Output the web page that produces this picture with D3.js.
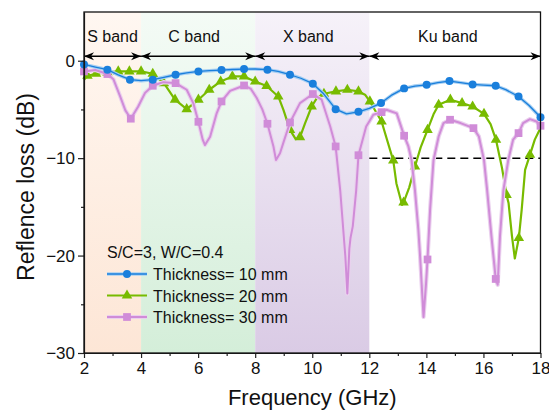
<!DOCTYPE html>
<html>
<head>
<meta charset="utf-8">
<script src="https://cdn.jsdelivr.net/npm/d3@7"></script>
<style>
  html, body { margin: 0; padding: 0; background: #fff; }
  svg { display: block; font-family: "Liberation Sans", Arial, sans-serif; }
</style>
</head>
<body>
<svg id="chart" width="549" height="412"></svg>
<script>
// Frequency bands (GHz)
const bandNames = ["S band", "C band", "X band", "Ku band"];
const bandEdges = [2, 4, 8, 12, 18];

// Axis ticks
const xTicks = [2, 4, 6, 8, 10, 12, 14, 16, 18];
const xMinorTicks = [3, 5, 7, 9, 11, 13, 15, 17];
const yTicks = [-30, -20, -10, 0];
const yMinorTicks = [-25, -15, -5];

// Reference level of -10 dB across the Ku band
const refLevel = -10;
const refRange = [12, 18];

// Thickness = 10 mm
const freq10 = [2.0, 2.4, 2.82, 3.2, 3.61, 4.0, 4.41, 4.8, 5.21, 5.6, 6.01, 6.4, 6.82, 7.2, 7.61, 8.0, 8.43, 8.8, 9.22, 9.6, 10.02, 10.4, 10.82, 11.2, 11.62, 12.0, 12.41, 12.8, 13.22, 13.6, 14.01, 14.4, 14.81, 15.2, 15.62, 16.0, 16.43, 16.8, 17.23, 17.6, 18.0];
const loss10 = [-0.38, -0.65, -0.92, -1.45, -1.95, -2.05, -1.95, -1.7, -1.44, -1.25, -1.1, -1.02, -0.96, -0.9, -0.86, -0.85, -0.92, -1.1, -1.44, -1.8, -2.36, -3.4, -4.97, -5.45, -5.24, -4.9, -4.35, -3.5, -2.84, -2.6, -2.47, -2.25, -2.09, -2.25, -2.43, -2.5, -2.57, -3.0, -3.67, -4.6, -5.8];
const marks10 = [2.0, 2.82, 3.61, 4.41, 5.21, 6.01, 6.82, 7.61, 8.43, 9.22, 10.02, 10.82, 11.62, 12.41, 13.22, 14.01, 14.81, 15.62, 16.43, 17.23, 18.0];

// Thickness = 20 mm
const freq20 = [2.0, 2.12, 2.42, 2.82, 3.2, 3.59, 4.0, 4.41, 4.8, 5.19, 5.6, 6.01, 6.39, 6.79, 7.2, 7.61, 8.0, 8.4, 8.81, 8.99, 9.22, 9.42, 9.57, 9.75, 9.98, 10.16, 10.41, 10.83, 11.23, 11.62, 11.85, 12.02, 12.43, 12.84, 12.95, 13.15, 13.2, 13.4, 13.6, 13.8, 14.04, 14.25, 14.43, 14.84, 15.25, 15.62, 16.02, 16.25, 16.44, 16.65, 16.81, 16.88, 17.0, 17.1, 17.24, 17.34, 17.46, 17.63, 17.8, 18.0];
const loss20 = [-1.95, -1.54, -1.34, -1.2, -1.1, -1.1, -1.1, -1.34, -2.3, -4.0, -4.97, -4.0, -2.98, -2.13, -1.61, -1.61, -2.13, -2.6, -3.67, -5.04, -7.1, -8.05, -7.84, -6.4, -4.7, -3.84, -3.39, -3.15, -2.98, -3.15, -3.49, -4.18, -6.24, -10.25, -12.6, -14.8, -14.56, -13.0, -10.86, -8.9, -7.1, -5.5, -4.52, -4.0, -4.35, -4.7, -5.45, -6.5, -8.12, -11.0, -13.77, -14.6, -18.0, -20.3, -18.2, -15.3, -11.2, -9.66, -8.1, -6.9];
const marks20 = [2.12, 2.42, 2.82, 3.2, 3.59, 4.0, 4.41, 4.8, 5.19, 5.6, 6.01, 6.39, 6.79, 7.2, 7.61, 8.0, 8.4, 8.81, 9.22, 9.57, 9.98, 10.41, 10.83, 11.23, 11.62, 12.02, 12.43, 12.84, 13.2, 13.6, 14.04, 14.43, 14.84, 15.25, 15.62, 16.02, 16.44, 16.81, 17.24, 17.63];

// Thickness = 30 mm
const freq30 = [2.0, 2.4, 2.82, 3.03, 3.26, 3.45, 3.64, 3.9, 4.14, 4.41, 4.78, 5.21, 5.6, 5.83, 6.01, 6.16, 6.24, 6.42, 6.65, 6.82, 7.12, 7.61, 7.85, 8.05, 8.25, 8.43, 8.64, 8.73, 8.87, 9.0, 9.22, 9.57, 10.02, 10.33, 10.63, 10.82, 10.98, 11.16, 11.23, 11.3, 11.34, 11.42, 11.54, 11.62, 11.89, 12.14, 12.43, 12.6, 12.96, 13.22, 13.37, 13.48, 13.6, 13.72, 13.78, 13.9, 13.99, 14.04, 14.13, 14.25, 14.43, 14.6, 14.83, 15.2, 15.65, 15.84, 16.02, 16.13, 16.28, 16.43, 16.5, 16.58, 16.7, 16.87, 17.04, 17.23, 17.39, 17.63, 17.86, 18.0];
const loss30 = [-1.1, -0.95, -1.37, -1.9, -3.6, -5.1, -5.95, -4.7, -3.3, -2.57, -2.2, -2.3, -2.98, -4.35, -6.27, -8.1, -8.65, -7.8, -5.4, -4.18, -3.1, -2.54, -2.9, -3.8, -5.0, -6.47, -8.8, -10.2, -9.5, -8.3, -6.34, -4.35, -3.42, -4.0, -6.75, -8.8, -13.3, -20.1, -23.9, -19.3, -18.2, -17.0, -13.3, -9.7, -6.75, -5.55, -5.28, -5.04, -5.4, -7.7, -8.8, -10.2, -13.3, -17.4, -20.1, -26.3, -22.8, -20.4, -15.3, -10.2, -7.78, -6.4, -6.06, -6.4, -6.92, -7.78, -10.2, -13.3, -18.0, -22.4, -23.0, -18.0, -13.3, -10.2, -8.1, -7.43, -6.4, -6.0, -6.24, -6.68];
const marks30 = [2.0, 2.82, 3.64, 4.41, 5.21, 6.01, 6.82, 7.61, 8.43, 9.22, 10.02, 10.82, 11.62, 12.43, 13.22, 14.04, 14.83, 15.65, 16.43, 17.23, 18.0];

// Legend
const legendTitle = "S/C=3, W/C=0.4";
const legendLabels = ["Thickness= 10 mm", "Thickness= 20 mm", "Thickness= 30 mm"];

const W = 549, H = 412;
const plot = { left: 84, right: 540.5, top: 12, bottom: 353 };

const svg = d3.select("#chart");
const x = d3.scaleLinear().domain([2, 18]).range([plot.left, plot.right]);
const y = d3.scaleLinear().domain([-30, 5]).range([plot.bottom, plot.top]);

// Shaded band backgrounds (soft vertical gradients)
const bandFills = [
  { top: "#fff7f1", bottom: "#fde6d6" },
  { top: "#f4fbf6", bottom: "#d4eed9" },
  { top: "#f6f2f9", bottom: "#dacbe5" },
  null
];
const defs = svg.append("defs");
bandFills.forEach((f, i) => {
  if (!f) return;
  const g = defs.append("linearGradient").attr("id", "band" + i)
    .attr("x1", 0).attr("y1", 0).attr("x2", 0).attr("y2", 1);
  g.append("stop").attr("offset", "0%").attr("stop-color", f.top);
  g.append("stop").attr("offset", "100%").attr("stop-color", f.bottom);
});
svg.append("g").selectAll("rect")
  .data(bandNames.map((n, i) => ({ i, a: bandEdges[i], b: bandEdges[i + 1] })).filter(d => bandFills[d.i]))
  .join("rect")
  .attr("x", d => x(d.a)).attr("width", d => x(d.b) - x(d.a))
  .attr("y", plot.top).attr("height", plot.bottom - plot.top)
  .attr("fill", d => `url(#band${d.i})`);

// Band span arrows and labels
const arrowY = y(0.46);
const arrowHead = "M0,0 L-10,-4 L-7,0 L-10,4 Z";
const bands = svg.append("g");
bandNames.forEach((name, i) => {
  const x0 = x(bandEdges[i]), x1 = x(bandEdges[i + 1]);
  bands.append("line").attr("x1", x0).attr("x2", x1).attr("y1", arrowY).attr("y2", arrowY)
    .attr("stroke", "#000").attr("stroke-width", 1.3);
  bands.append("path").attr("d", arrowHead).attr("fill", "#000")
    .attr("transform", `translate(${x0},${arrowY}) rotate(180)`);
  bands.append("path").attr("d", arrowHead).attr("fill", "#000")
    .attr("transform", `translate(${x1},${arrowY})`);
  bands.append("text").attr("x", (x0 + x1) / 2 - (i === 0 ? 0 : i === 3 ? 7 : 4)).attr("y", 42)
    .attr("text-anchor", "middle").attr("font-size", 16).attr("fill", "#111").text(name);
});

// -10 dB reference line
svg.append("line")
  .attr("x1", x(refRange[0])).attr("x2", x(refRange[1]))
  .attr("y1", y(refLevel)).attr("y2", y(refLevel))
  .attr("stroke", "#000").attr("stroke-width", 1.5).attr("stroke-dasharray", "8,5");

// Series
const series = [
  { f: freq10, v: loss10, m: marks10, color: "#1a7fdc", halo: "#a6cff2", width: 1.3, shape: "circle" },
  { f: freq20, v: loss20, m: marks20, color: "#78bb00", halo: null, width: 2.2, shape: "triangle" },
  { f: freq30, v: loss30, m: marks30, color: "#d08cd8", halo: "#ead0ee", width: 2.0, shape: "square" }
];
const line = d3.line().x(d => x(d[0])).y(d => y(d[1]));
const symbolFor = s => s === "circle" ? d3.symbolCircle : s === "triangle" ? d3.symbolTriangle : d3.symbolSquare;
const symbolSize = s => s === "circle" ? 50 : s === "triangle" ? 48 : 60;

const seriesLayer = svg.append("g");
[1, 2, 0].forEach(k => {
  const s = series[k];
  const pts = s.f.map((f, i) => [f, s.v[i]]);
  const g = seriesLayer.append("g");
  if (s.halo) {
    g.append("path").datum(pts).attr("d", line).attr("fill", "none")
      .attr("stroke", s.halo).attr("stroke-width", s.width + 2.2).attr("stroke-linejoin", "round");
  }
  g.append("path").datum(pts).attr("d", line).attr("fill", "none")
    .attr("stroke", s.color).attr("stroke-width", s.width).attr("stroke-linejoin", "round");
  const markPts = s.m.map(mf => pts.find(p => p[0] === mf)).filter(Boolean);
  g.selectAll("path.mk").data(markPts).join("path").attr("class", "mk")
    .attr("d", d3.symbol().type(symbolFor(s.shape)).size(symbolSize(s.shape)))
    .attr("transform", d => `translate(${x(d[0])},${y(d[1])})`)
    .attr("fill", s.color);
});

// Axes
const xAxis = svg.append("g").attr("transform", `translate(0,${plot.bottom})`)
  .call(d3.axisBottom(x).tickValues(xTicks).tickSize(5).tickSizeOuter(0).tickPadding(4).tickFormat(d3.format("d")));
svg.append("g").attr("transform", `translate(0,${plot.bottom})`)
  .call(d3.axisBottom(x).tickValues(xMinorTicks).tickSize(3).tickSizeOuter(0).tickFormat(""))
  .call(g => g.select(".domain").remove());
const yAxis = svg.append("g").attr("transform", `translate(${plot.left},0)`)
  .call(d3.axisLeft(y).tickValues(yTicks).tickSize(6).tickSizeOuter(0).tickPadding(3));
svg.append("g").attr("transform", `translate(${plot.left},0)`)
  .call(d3.axisLeft(y).tickValues(yMinorTicks).tickSize(3).tickSizeOuter(0).tickFormat(""))
  .call(g => g.select(".domain").remove());
svg.selectAll(".tick line").attr("stroke", "#222").attr("stroke-width", 1.2);
svg.selectAll(".domain").attr("stroke", "#222").attr("stroke-width", 1.2);
svg.selectAll(".tick text").attr("font-size", 17).attr("fill", "#111")
  .attr("font-family", "'Liberation Sans', Arial, sans-serif");
xAxis.selectAll(".tick text").attr("dy", "0.71em");

// Plot frame
svg.append("rect")
  .attr("x", plot.left).attr("y", plot.top)
  .attr("width", plot.right - plot.left).attr("height", plot.bottom - plot.top)
  .attr("fill", "none").attr("stroke", "#111").attr("stroke-width", 1.3);

// Axis titles
svg.append("text").attr("x", (plot.left + plot.right) / 2).attr("y", 405)
  .attr("text-anchor", "middle").attr("font-size", 22).attr("fill", "#111").text("Frequency (GHz)");
svg.append("text").attr("transform", "translate(33.5,187) rotate(-90)")
  .attr("text-anchor", "middle").attr("font-size", 23).attr("fill", "#111").text("Reflence loss (dB)");

// Legend
const legend = svg.append("g");
legend.append("text").attr("x", 107).attr("y", 258).attr("font-size", 16).attr("fill", "#111").text(legendTitle);
legendLabels.forEach((label, i) => {
  const s = series[i];
  const ly = 274 + i * 21.5;
  if (s.halo) {
    legend.append("line").attr("x1", 107).attr("x2", 147).attr("y1", ly).attr("y2", ly)
      .attr("stroke", s.halo).attr("stroke-width", s.width + 2.2);
  }
  legend.append("line").attr("x1", 107).attr("x2", 147).attr("y1", ly).attr("y2", ly)
    .attr("stroke", s.color).attr("stroke-width", s.width);
  legend.append("path")
    .attr("d", d3.symbol().type(symbolFor(s.shape)).size(symbolSize(s.shape)))
    .attr("transform", `translate(127,${ly})`).attr("fill", s.color);
  legend.append("text").attr("x", 153).attr("y", ly + 6).attr("font-size", 16).attr("fill", "#111").text(label);
});
</script>
</body>
</html>
